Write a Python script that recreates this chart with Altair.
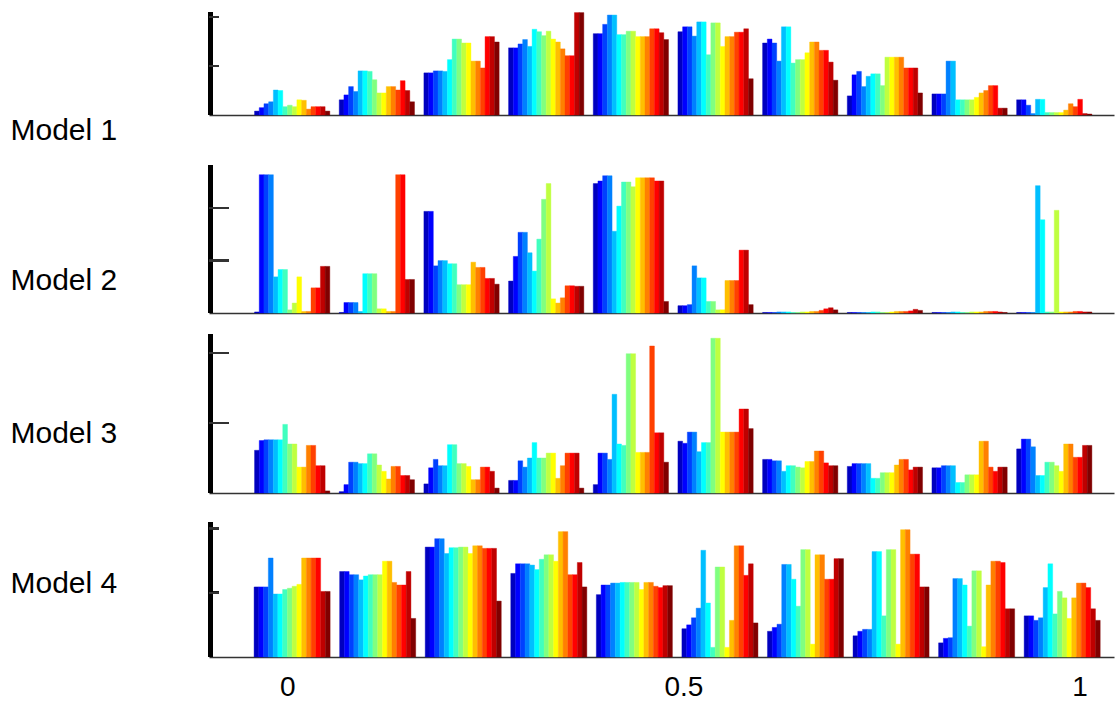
import altair as alt
import pandas as pd

# 16 series per group, coloured with the jet colormap
series = [f"s{i + 1:02d}" for i in range(16)]
jet_colors = ["#0000BF", "#0000FF", "#0040FF", "#0080FF", "#00BFFF", "#00FFFF",
              "#40FFBF", "#80FF80", "#BFFF40", "#FFFF00", "#FFBF00", "#FF8000",
              "#FF4000", "#FF0000", "#BF0000", "#800000"]

# group centres on the x axis (10 groups)
group_centers = [0.006, 0.114, 0.222, 0.330, 0.438, 0.546, 0.654, 0.762, 0.870, 0.978]
x_ticks = [0, 0.5, 1]
y_ticks = [1, 2]

model1 = [
    [0.08, 0.15, 0.23, 0.27, 0.51, 0.50, 0.17, 0.20, 0.17, 0.31, 0.30, 0.12, 0.17, 0.17, 0.17, 0.08],
    [0.31, 0.41, 0.58, 0.48, 0.90, 0.90, 0.89, 0.72, 0.45, 0.45, 0.58, 0.58, 0.51, 0.70, 0.50, 0.27],
    [0.86, 0.86, 0.90, 0.90, 0.89, 1.13, 1.55, 1.55, 1.47, 1.47, 1.10, 1.10, 0.96, 1.60, 1.60, 1.49],
    [1.37, 1.37, 1.45, 1.54, 1.40, 1.75, 1.70, 1.62, 1.71, 1.55, 1.49, 1.35, 1.21, 1.21, 2.09, 2.09],
    [1.66, 1.66, 1.85, 2.04, 2.04, 1.64, 1.64, 1.71, 1.71, 1.60, 1.60, 1.60, 1.76, 1.76, 1.68, 1.54],
    [1.70, 1.80, 1.80, 1.61, 1.90, 1.90, 1.23, 1.88, 1.88, 1.40, 1.60, 1.60, 1.69, 1.69, 1.76, 0.74],
    [1.47, 1.55, 1.47, 1.10, 1.80, 1.80, 1.06, 1.13, 1.13, 1.27, 1.49, 1.49, 1.32, 1.32, 1.08, 0.71],
    [0.39, 0.82, 0.89, 0.58, 0.79, 0.84, 0.84, 0.60, 1.18, 1.18, 1.18, 1.18, 0.96, 0.96, 0.96, 0.45],
    [0.43, 0.43, 0.43, 1.10, 1.10, 0.31, 0.31, 0.31, 0.31, 0.36, 0.45, 0.50, 0.60, 0.60, 0.14, 0.14],
    [0.31, 0.31, 0.20, 0.03, 0.32, 0.32, 0.05, 0.05, 0.05, 0.05, 0.10, 0.23, 0.17, 0.32, 0.03, 0.02],
]

model2 = [
    [0.02, 2.64, 2.64, 2.64, 0.69, 0.83, 0.83, 0.06, 0.19, 0.69, 0.03, 0.03, 0.48, 0.48, 0.89, 0.89],
    [0.01, 0.20, 0.20, 0.20, 0.03, 0.75, 0.75, 0.75, 0.08, 0.08, 0.03, 0.03, 2.64, 2.64, 0.64, 0.64],
    [1.94, 1.94, 0.90, 1.00, 1.00, 0.94, 0.94, 0.54, 0.54, 0.54, 0.97, 0.87, 0.87, 0.66, 0.66, 0.55],
    [0.61, 1.08, 1.54, 1.54, 1.15, 0.80, 1.41, 2.17, 2.47, 0.27, 0.19, 0.29, 0.52, 0.52, 0.51, 0.51],
    [2.47, 2.52, 2.62, 2.62, 1.56, 2.04, 2.50, 2.50, 2.41, 2.58, 2.58, 2.58, 2.58, 2.52, 2.52, 0.22],
    [0.14, 0.14, 0.16, 0.90, 0.67, 0.67, 0.22, 0.22, 0.06, 0.06, 0.62, 0.62, 0.62, 1.20, 1.20, 0.16],
    [0.01, 0.01, 0.01, 0.02, 0.02, 0.02, 0.01, 0.01, 0.02, 0.02, 0.03, 0.03, 0.05, 0.08, 0.10, 0.06],
    [0.01, 0.01, 0.01, 0.01, 0.01, 0.02, 0.02, 0.01, 0.01, 0.02, 0.03, 0.03, 0.03, 0.04, 0.07, 0.05],
    [0.01, 0.01, 0.01, 0.01, 0.02, 0.02, 0.01, 0.01, 0.02, 0.02, 0.02, 0.03, 0.03, 0.03, 0.02, 0.01],
    [0.01, 0.01, 0.01, 0.01, 2.43, 1.78, 0.02, 0.02, 1.96, 0.02, 0.02, 0.02, 0.03, 0.03, 0.02, 0.02],
]

model3 = [
    [0.61, 0.75, 0.76, 0.76, 0.76, 0.76, 0.98, 0.70, 0.70, 0.37, 0.37, 0.68, 0.68, 0.39, 0.39, 0.03],
    [0.02, 0.12, 0.44, 0.44, 0.42, 0.42, 0.56, 0.56, 0.40, 0.31, 0.20, 0.38, 0.38, 0.25, 0.25, 0.19],
    [0.13, 0.36, 0.48, 0.39, 0.39, 0.69, 0.69, 0.42, 0.42, 0.38, 0.19, 0.19, 0.37, 0.37, 0.31, 0.07],
    [0.18, 0.18, 0.46, 0.37, 0.50, 0.72, 0.50, 0.50, 0.57, 0.57, 0.21, 0.39, 0.57, 0.57, 0.57, 0.07],
    [0.12, 0.57, 0.57, 0.48, 1.41, 0.70, 0.68, 1.99, 1.99, 0.58, 0.58, 0.58, 2.10, 0.86, 0.86, 0.44],
    [0.74, 0.71, 0.87, 0.87, 0.59, 0.72, 0.72, 2.21, 2.21, 0.87, 0.87, 0.87, 0.87, 1.20, 1.20, 0.92],
    [0.48, 0.48, 0.46, 0.46, 0.31, 0.39, 0.39, 0.37, 0.36, 0.45, 0.45, 0.60, 0.60, 0.43, 0.39, 0.39],
    [0.38, 0.42, 0.42, 0.42, 0.42, 0.21, 0.21, 0.29, 0.29, 0.29, 0.40, 0.48, 0.48, 0.33, 0.37, 0.37],
    [0.36, 0.36, 0.39, 0.39, 0.39, 0.15, 0.15, 0.26, 0.26, 0.26, 0.74, 0.74, 0.37, 0.31, 0.37, 0.37],
    [0.63, 0.77, 0.77, 0.66, 0.25, 0.25, 0.44, 0.44, 0.39, 0.31, 0.70, 0.70, 0.51, 0.51, 0.68, 0.68],
]

model4 = [
    [1.09, 1.09, 1.09, 1.54, 0.98, 0.98, 1.05, 1.07, 1.10, 1.13, 1.54, 1.54, 1.54, 1.54, 1.02, 1.02],
    [1.33, 1.33, 1.28, 1.28, 1.20, 1.26, 1.28, 1.28, 1.28, 1.49, 1.49, 1.16, 1.12, 1.12, 1.33, 0.60],
    [1.71, 1.71, 1.84, 1.84, 1.61, 1.70, 1.70, 1.71, 1.71, 1.61, 1.73, 1.73, 1.69, 1.69, 1.69, 0.87],
    [1.30, 1.45, 1.45, 1.45, 1.43, 1.36, 1.52, 1.59, 1.59, 1.49, 1.95, 1.95, 1.28, 1.28, 1.47, 1.09],
    [0.97, 1.12, 1.12, 1.15, 1.15, 1.16, 1.16, 1.16, 1.16, 1.05, 1.16, 1.16, 1.10, 1.08, 1.11, 1.11],
    [0.44, 0.50, 0.61, 0.76, 1.66, 0.84, 0.15, 1.40, 1.40, 0.15, 0.57, 1.73, 1.73, 1.27, 1.45, 0.53],
    [0.40, 0.46, 0.51, 1.44, 1.44, 1.21, 0.79, 1.67, 1.67, 0.20, 1.59, 1.59, 1.21, 1.21, 1.53, 1.53],
    [0.33, 0.40, 0.43, 0.43, 1.64, 1.64, 0.64, 1.67, 1.67, 0.20, 1.98, 1.98, 1.60, 1.60, 1.09, 1.09],
    [0.22, 0.29, 0.30, 1.22, 1.22, 1.12, 0.48, 1.34, 1.34, 0.16, 1.12, 1.49, 1.49, 1.47, 0.75, 0.75],
    [0.64, 0.64, 0.57, 0.61, 1.08, 1.45, 0.67, 1.02, 0.92, 0.60, 0.92, 1.15, 1.15, 1.08, 0.75, 0.57],
]

model_names = ["Model 1", "Model 2", "Model 3", "Model 4"]
models = [model1, model2, model3, model4]

# layout per panel: (view height px, y-domain max, left spine top, tick length, label y offset, x domain)
layout = [
    (105, 2.143, 2.10, 10, 120, [-0.1001, 1.0542]),
    (198, 3.779, 2.82, 20, 165, [-0.1001, 1.0542]),
    (180, 2.571, 2.26, 20, 120, [-0.1001, 1.0542]),
    (164, 2.551, 2.10, 10, 90, [-0.0989, 1.0434]),
]

FONT = "Liberation Sans"
WIDTH = 905
BAR_W = 0.006

color_scale = alt.Scale(domain=series, range=jet_colors)


def make_panel(idx):
    name = model_names[idx]
    data = models[idx]
    height, ymax, spine_top, tick_len, title_y, x_domain = layout[idx]
    rows = []
    for gi, (c, vals) in enumerate(zip(group_centers, data)):
        for si, v in enumerate(vals):
            x0 = c + (si - 8) * BAR_W
            rows.append({"group": gi, "series": series[si], "x0": x0, "x1": x0 + BAR_W, "value": v})
    df = pd.DataFrame(rows)
    last = idx == len(models) - 1
    yscale = alt.Scale(domain=[0, ymax], nice=False, zero=True)
    xaxis = alt.Axis(
        title=None, values=x_ticks, format="~g", ticks=False, grid=False,
        labels=last, labelFont=FONT, labelFontSize=28, labelColor="black",
        labelPadding=16, domainColor="#333333", domainWidth=1.5,
    )
    yaxis = alt.Axis(
        title=name, titleAngle=0, titleAlign="left", titleBaseline="middle",
        titleX=-199, titleY=title_y, titleFont=FONT, titleFontSize=30,
        titleFontWeight="normal", titleColor="black",
        labels=False, ticks=False, domain=False, grid=False,
    )
    bars = alt.Chart(df).mark_rect(strokeWidth=0.4).encode(
        x=alt.X("x0:Q", scale=alt.Scale(domain=x_domain, nice=False, zero=False), axis=xaxis),
        x2="x1:Q",
        y=alt.Y("value:Q", scale=yscale, axis=yaxis),
        y2=alt.datum(0),
        fill=alt.Fill("series:N", scale=color_scale, legend=None),
        stroke=alt.Stroke("series:N", scale=color_scale, legend=None),
    )
    spine = alt.Chart(df).mark_rule(color="black", strokeWidth=4).encode(
        x=alt.value(1.5), y=alt.datum(0), y2=alt.datum(spine_top)
    )
    layers = [bars, spine]
    for t in y_ticks:
        layers.append(
            alt.Chart(df).mark_rule(color="#333333", strokeWidth=1.5).encode(
                x=alt.value(0), x2=alt.value(tick_len), y=alt.datum(t)
            )
        )
    return alt.layer(*layers).properties(width=WIDTH, height=height)


chart = alt.vconcat(*[make_panel(i) for i in range(4)], spacing=0, bounds="flush").resolve_scale(
    x="independent", y="independent"
).configure_view(stroke=None).properties(
    padding={"left": 10, "top": 10, "right": 5, "bottom": 5}, background="white"
)

chart.save("out.html", embed_options={"renderer": "svg", "actions": False})
